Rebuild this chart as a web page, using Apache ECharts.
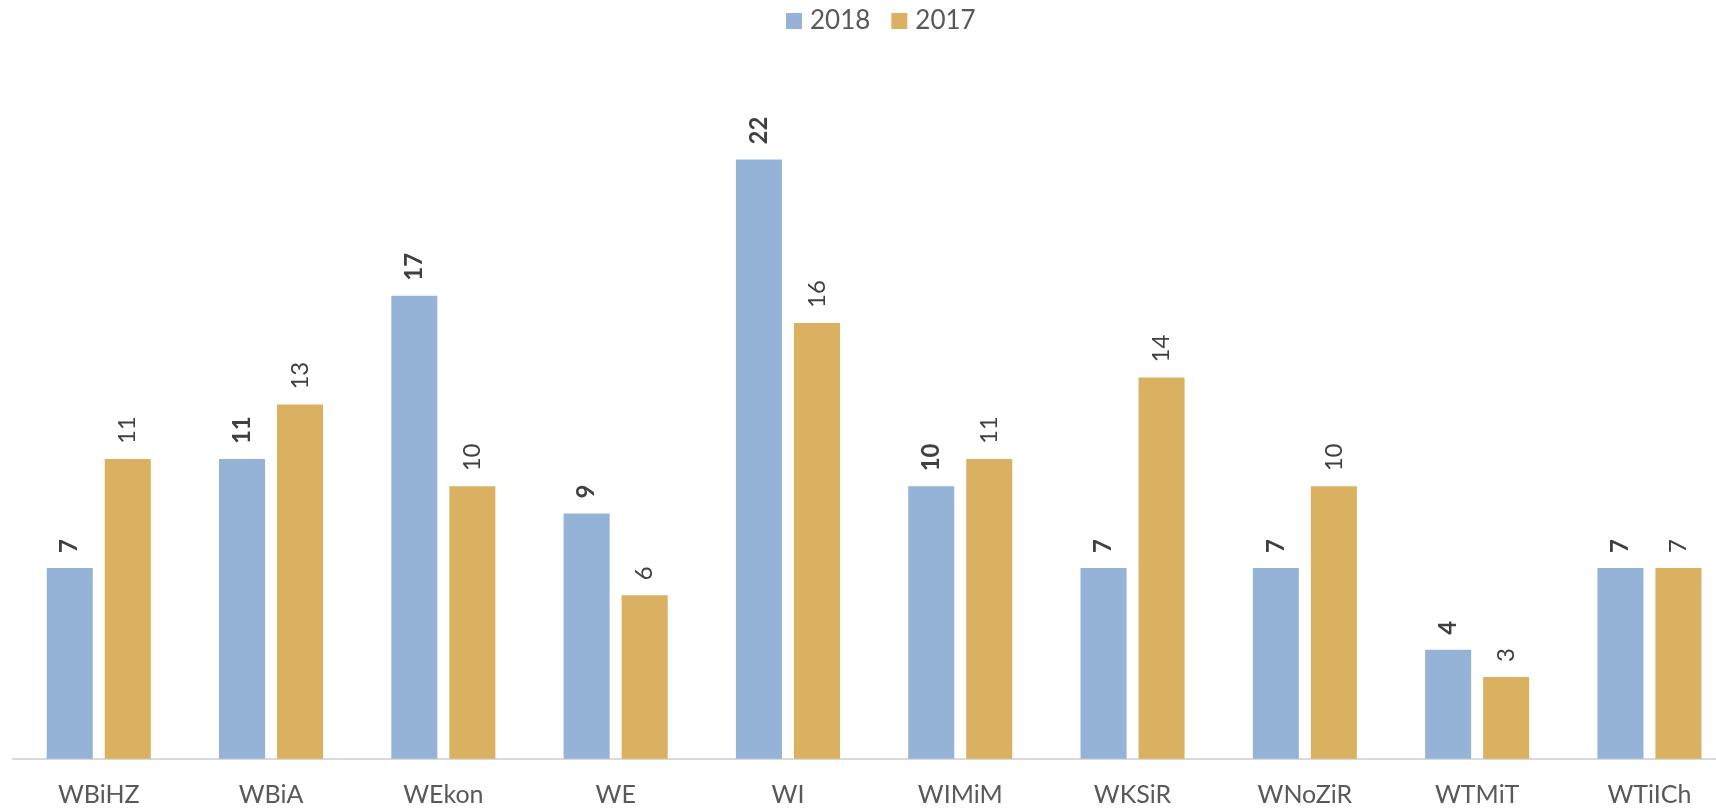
<!DOCTYPE html>
<html>
<head>
<meta charset="utf-8">
<script src="https://cdn.jsdelivr.net/npm/echarts@6/dist/echarts.min.js"></script>
<style>
html,body{margin:0;padding:0;background:#fff;}
#chart{width:1716px;height:809px;}
</style>
</head>
<body>
<div id="chart"></div>
<script>
const categories = ['WBiHZ','WBiA','WEkon','WE','WI','WIMiM','WKSiR','WNoZiR','WTMiT','WTiICh'];
const seriesNames = ['2018','2017'];
const values2018 = [7, 11, 17, 9, 22, 10, 7, 7, 4, 7];
const values2017 = [11, 13, 10, 6, 16, 11, 14, 10, 3, 7];

const FONT = 'Lato, "Open Sans", sans-serif';
const chart = echarts.init(document.getElementById('chart'));
chart.setOption({
  animation: false,
  backgroundColor: '#ffffff',
  legend: {
    data: seriesNames,
    left: 786,
    top: 8,
    padding: 0,
    itemWidth: 16,
    itemHeight: 16,
    itemGap: 21,
    icon: 'rect',
    textStyle: { fontFamily: FONT, fontSize: 26, color: '#595959', padding: [0,0,0,3] }
  },
  grid: { left: 12.6, width: 1723, top: 105, bottom: 50.3, containLabel: false, outerBoundsMode: 'none' },
  xAxis: {
    type: 'category',
    data: categories,
    axisLine: { show: true, lineStyle: { color: '#D9D9D9', width: 2 } },
    axisTick: { show: false },
    axisLabel: { fontFamily: FONT, fontSize: 25, color: '#595959', margin: 24 }
  },
  yAxis: {
    type: 'value',
    min: 0, max: 24,
    show: false,
    splitLine: { show: false }
  },
  series: [
    {
      name: seriesNames[0], type: 'bar', data: values2018,
      barGap: '26%', barCategoryGap: '39.6%',
      itemStyle: { color: '#95B3D7' },
      label: {
        show: true, position: 'top', rotate: 90, align: 'left', verticalAlign: 'middle',
        distance: 15, fontFamily: FONT, fontSize: 24, fontWeight: 'bold', color: '#404040'
      }
    },
    {
      name: seriesNames[1], type: 'bar', data: values2017,
      barGap: '26%', barCategoryGap: '39.6%',
      itemStyle: { color: '#D9B160' },
      label: {
        show: true, position: 'top', rotate: 90, align: 'left', verticalAlign: 'middle',
        distance: 15, fontFamily: FONT, fontSize: 24, color: '#404040'
      }
    }
  ]
});
</script>
</body>
</html>
